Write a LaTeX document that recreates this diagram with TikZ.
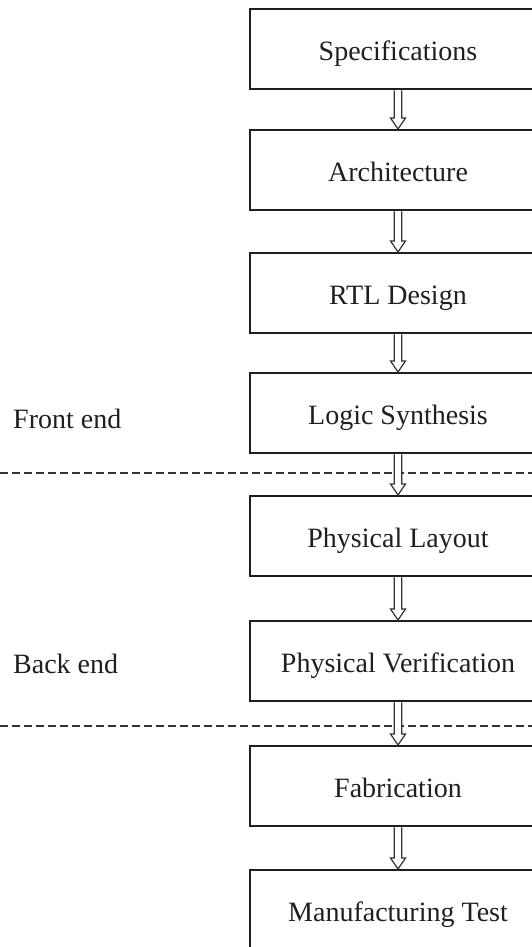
\documentclass[tikz,border=0pt]{standalone}
\usepackage{fontspec}
\setmainfont{Liberation Serif}
\usetikzlibrary{calc}
\begin{document}
\begin{tikzpicture}[x=1pt,y=-1pt,
  stage/.style={draw=black!88, line width=1.6pt, minimum width=296pt, minimum height=80pt,
    inner sep=0pt, text height=28pt, text depth=4pt, anchor=north,
    font=\fontsize{28}{32}\selectfont, text=black!88},
  flow/.style={draw=black!80, line width=1.2pt, fill=white,
    to path={($(\tikztostart)+(-3.8pt,-0.8pt)$) -- ($(\tikztotarget)+(-3.8pt,11pt)$)
      -- ($(\tikztotarget)+(-7.5pt,11pt)$) -- (\tikztotarget)
      -- ($(\tikztotarget)+(7.5pt,11pt)$) -- ($(\tikztotarget)+(3.8pt,11pt)$)
      -- ($(\tikztostart)+(3.8pt,-0.8pt)$)}},
  sep/.style={draw=black!80, line width=1.2pt, dash pattern=on 8pt off 4pt},
  side/.style={anchor=base west, inner sep=0pt, font=\fontsize{28}{32}\selectfont, text=black!88}]
\useasboundingbox (0,0) rectangle (532,947);
\clip (0,0) rectangle (532,947);
% separators
\coordinate (d1l) at (0,473);
\coordinate (d1r) at (532,473);
\coordinate (d2l) at (0,726);
\coordinate (d2r) at (532,726);
\draw[sep] (d1l) -- (d1r);
\draw[sep] (d2l) -- (d2r);
% stages
\node[stage] (s1) at (398,8) {Specifications};
\node[stage] (s2) at (398,129) {Architecture};
\node[stage] (s3) at (398,252) {RTL Design};
\node[stage] (s4) at (398,372) {Logic Synthesis};
\node[stage] (s5) at (398,495) {Physical Layout};
\node[stage] (s6) at (398,620) {Physical Verification};
\node[stage] (s7) at (398,745) {Fabrication};
\node[stage] (s8) at (398,869) {Manufacturing Test};
% arrows
\draw[flow] (s1.south) to (s2.north);
\draw[flow] (s2.south) to (s3.north);
\draw[flow] (s3.south) to (s4.north);
\draw[flow] (s4.south) to (s5.north);
\draw[flow] (s5.south) to (s6.north);
\draw[flow] (s6.south) to (s7.north);
\draw[flow] (s7.south) to (s8.north);
% side labels
\node[side] (fe) at (13,428) {Front end};
\node[side] (be) at (13,673) {Back end};
\end{tikzpicture}
\end{document}
